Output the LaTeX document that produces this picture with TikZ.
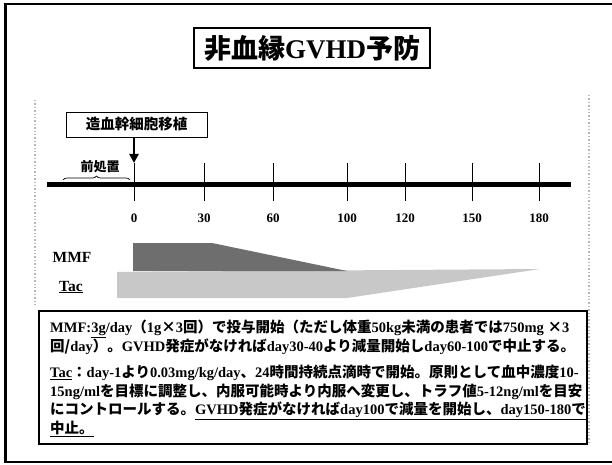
\documentclass[tikz,border=0pt]{standalone}
\usepackage{fontspec}
\setmainfont{Liberation Serif}
\newfontfamily\jp{Noto Sans CJK JP}
\usetikzlibrary{arrows.meta,decorations.pathreplacing}
\newcommand\J[1]{{\jp #1}}
\definecolor{mmfgray}{HTML}{6E6E6E}
\definecolor{tacgray}{HTML}{C8C8C8}
\tikzset{
  tickline/.style={line width=0.7pt},
  ticklabel/.style={font=\fontsize{13}{13}\selectfont\bfseries, inner sep=0pt},
  rowlabel/.style={font=\fontsize{15.5}{15.5}\selectfont\bfseries, inner sep=0pt},
  bodyline/.style={anchor=west, inner sep=0pt, font=\fontsize{14.5}{14.5}\selectfont\bfseries},
  faint/.style={draw=gray!55, line width=1.4pt, dotted},
}
\begin{document}
\begin{tikzpicture}[x=1pt,y=-1pt]
\useasboundingbox (0,0) rectangle (612,465);
% outer frame
\draw[line width=2.2pt] (612,4) -- (5.5,4) -- (5.5,462) -- (612,462);
% faint chart frame
\draw[faint] (35,100) -- (35,306);
\draw[faint] (589,95) -- (589,442);
% title
\node[draw, line width=1.1pt, minimum width=236pt, minimum height=40pt, inner sep=0pt,
      font=\fontsize{27}{27}\selectfont\bfseries] (title) at (312,48) {\J{非血縁}GVHD\J{予防}};
% transplant box
\node[draw, line width=0.9pt, minimum width=141pt, minimum height=25pt, inner sep=0pt,
      font=\fontsize{14.5}{14.5}\selectfont\bfseries] (tx) at (136.5,124.5) {\J{造血幹細胞移植}};
\coordinate (tip) at (134,163);
\draw[line width=2.6pt, -{Triangle[length=9pt,width=9pt]}] (tx.south -| tip) -- (tip);
% timeline
\draw[line width=5pt] (47,184) coordinate (tl0) -- (571,184) coordinate (tl1);
\foreach \xx/\lab in {134/0,204/30,273/60,347/100,405/120,472/150,539/180}{
  \draw[tickline] (\xx,163) -- (\xx,201);
  \node[ticklabel] (lab\lab) at (\xx,218) {\lab};
}
% pre-treatment brace
\draw[line width=0.7pt, decorate, decoration={brace, amplitude=4pt}] (63,180) -- (130,180);
\node[inner sep=0pt, font=\fontsize{13}{13}\selectfont\bfseries] (pre) at (100,167) {\J{前処置}};
% drug bars
\fill[tacgray] (117,272) -- (540,269) -- (347,298) -- (117,298) -- cycle;
\fill[mmfgray] (133,271) -- (133,243) -- (212,243) -- (347,271) -- cycle;
\node[rowlabel] (mmf) at (72,257) {MMF};
\node[rowlabel] (tac) at (71,287) {\underline{Tac}};
% text box
\node[draw, line width=2.6pt, minimum width=548pt, minimum height=133pt, inner sep=0pt] (box) at (313,377.5) {};
\node[bodyline] (l1) at (50,329) {MMF:\underline{3g}/day\J{（}1g\J{×}3\J{回）で投与開始（ただし体重}50kg\J{未満の患者では}750mg \J{×}3};
\node[bodyline] (l2) at (50,347) {\J{回/}day\J{）。}GVHD\J{発症がなければ}day30-40\J{より減量開始し}day60-100\J{で中止する。}};
\node[bodyline] (l3) at (50,373) {\underline{Tac}\J{：}day-1\J{より}0.03mg/kg/day\J{、}24\J{時間持続点滴時で開始。原則として血中濃度}10-};
\node[bodyline] (l4) at (50,392) {15ng/ml\J{を目標に調整し、内服可能時より内服へ変更し、トラフ値}5-12ng/ml\J{を目安}};
\node[bodyline] (l5) at (50,411) {\J{にコントロールする。}\underline{GVHD\J{発症がなければ}day100\J{で減量を開始し、}day150-180\J{で}}};
\node[bodyline] (l6) at (50,429) {\underline{\J{中止。}}};
\end{tikzpicture}
\end{document}
